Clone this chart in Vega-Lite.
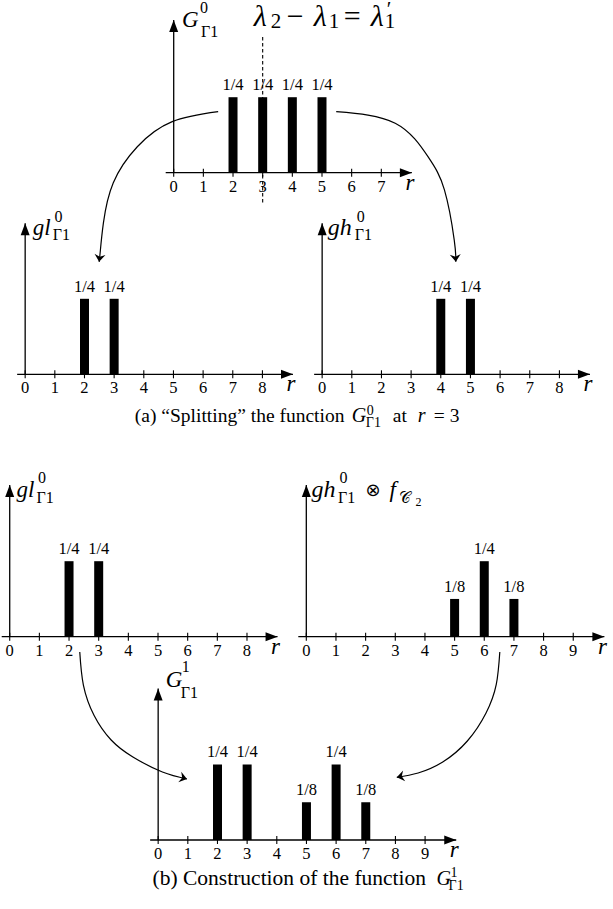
{
"$schema":"https://vega.github.io/schema/vega-lite/v6.json",
"width":613,"height":909,"padding":0,"autosize":{"type":"none"},
"background":"white",
"config":{"view":{"stroke":null},"axis":{"disable":true},"mark":{"color":"black"},"text":{"font":"Liberation Serif","baseline":"alphabetic","align":"left","color":"black"},"point":{"filled":true,"opacity":1,"strokeWidth":0},"rule":{"strokeWidth":1.3},"line":{"strokeWidth":1.2}},
"datasets":{
"axes":[
{"pn":"T","r":-0.27,"p":0,"r2":8.03,"p2":0},{"pn":"T","r":0,"p":0,"r2":0,"p2":0.506},
{"pn":"L2","r":-0.27,"p":0,"r2":9.03,"p2":0},{"pn":"L2","r":0,"p":0,"r2":0,"p2":0.5},
{"pn":"R2","r":-0.27,"p":0,"r2":9.03,"p2":0},{"pn":"R2","r":0,"p":0,"r2":0,"p2":0.5},
{"pn":"L3","r":-0.27,"p":0,"r2":9.03,"p2":0},{"pn":"L3","r":0,"p":0,"r2":0,"p2":0.502},
{"pn":"R3","r":-0.27,"p":0,"r2":10.05,"p2":0},{"pn":"R3","r":0,"p":0,"r2":0,"p2":0.502},
{"pn":"B4","r":-0.27,"p":0,"r2":10.05,"p2":0},{"pn":"B4","r":0,"p":0,"r2":0,"p2":0.502}
],
"ticks":[
{"pn":"T","r":0,"p":0},{"pn":"T","r":1,"p":0},{"pn":"T","r":2,"p":0},{"pn":"T","r":3,"p":0},{"pn":"T","r":4,"p":0},{"pn":"T","r":5,"p":0},{"pn":"T","r":6,"p":0},{"pn":"T","r":7,"p":0},
{"pn":"L2","r":0,"p":0},{"pn":"L2","r":1,"p":0},{"pn":"L2","r":2,"p":0},{"pn":"L2","r":3,"p":0},{"pn":"L2","r":4,"p":0},{"pn":"L2","r":5,"p":0},{"pn":"L2","r":6,"p":0},{"pn":"L2","r":7,"p":0},{"pn":"L2","r":8,"p":0},
{"pn":"R2","r":0,"p":0},{"pn":"R2","r":1,"p":0},{"pn":"R2","r":2,"p":0},{"pn":"R2","r":3,"p":0},{"pn":"R2","r":4,"p":0},{"pn":"R2","r":5,"p":0},{"pn":"R2","r":6,"p":0},{"pn":"R2","r":7,"p":0},{"pn":"R2","r":8,"p":0},
{"pn":"L3","r":0,"p":0},{"pn":"L3","r":1,"p":0},{"pn":"L3","r":2,"p":0},{"pn":"L3","r":3,"p":0},{"pn":"L3","r":4,"p":0},{"pn":"L3","r":5,"p":0},{"pn":"L3","r":6,"p":0},{"pn":"L3","r":7,"p":0},{"pn":"L3","r":8,"p":0},
{"pn":"R3","r":0,"p":0},{"pn":"R3","r":1,"p":0},{"pn":"R3","r":2,"p":0},{"pn":"R3","r":3,"p":0},{"pn":"R3","r":4,"p":0},{"pn":"R3","r":5,"p":0},{"pn":"R3","r":6,"p":0},{"pn":"R3","r":7,"p":0},{"pn":"R3","r":8,"p":0},{"pn":"R3","r":9,"p":0},
{"pn":"B4","r":0,"p":0},{"pn":"B4","r":1,"p":0},{"pn":"B4","r":2,"p":0},{"pn":"B4","r":3,"p":0},{"pn":"B4","r":4,"p":0},{"pn":"B4","r":5,"p":0},{"pn":"B4","r":6,"p":0},{"pn":"B4","r":7,"p":0},{"pn":"B4","r":8,"p":0},{"pn":"B4","r":9,"p":0}
],
"bars":[
{"pn":"T","r":2,"p":0.25,"lab":"1/4"},{"pn":"T","r":3,"p":0.25,"lab":"1/4"},{"pn":"T","r":4,"p":0.25,"lab":"1/4"},{"pn":"T","r":5,"p":0.25,"lab":"1/4"},
{"pn":"L2","r":2,"p":0.25,"lab":"1/4"},{"pn":"L2","r":3,"p":0.25,"lab":"1/4"},
{"pn":"R2","r":4,"p":0.25,"lab":"1/4"},{"pn":"R2","r":5,"p":0.25,"lab":"1/4"},
{"pn":"L3","r":2,"p":0.25,"lab":"1/4"},{"pn":"L3","r":3,"p":0.25,"lab":"1/4"},
{"pn":"R3","r":5,"p":0.125,"lab":"1/8"},{"pn":"R3","r":6,"p":0.25,"lab":"1/4"},{"pn":"R3","r":7,"p":0.125,"lab":"1/8"},
{"pn":"B4","r":2,"p":0.25,"lab":"1/4"},{"pn":"B4","r":3,"p":0.25,"lab":"1/4"},{"pn":"B4","r":5,"p":0.125,"lab":"1/8"},{"pn":"B4","r":6,"p":0.25,"lab":"1/4"},{"pn":"B4","r":7,"p":0.125,"lab":"1/8"}
],
"anchors":[
{"id":"T","r":0.282,"p":0.4834},
{"id":"title","r":2.703,"p":0.486},
{"id":"L2","r":0.259,"p":0.4613},
{"id":"R2","r":0.186,"p":0.4613},
{"id":"capA","r":3.698,"p":-0.157},
{"id":"L3","r":0.229,"p":0.4636},
{"id":"R3","r":0.179,"p":0.4636},
{"id":"B4","r":0.252,"p":0.5076},
{"id":"capB","r":-0.189,"p":-0.149}
],
"dash":[{"pn":"T","r":3,"p":0.449,"p2":-0.107}],
"arcs":[
{"arc":"TL","i":0,"r":1.499,"p":0.202},
{"arc":"TL","i":1,"r":-0.05,"p":0.169},
{"arc":"TL","i":2,"r":-1.227,"p":0.086},
{"arc":"TL","i":3,"r":-2.04,"p":-0.034},
{"arc":"TL","i":4,"r":-2.371,"p":-0.167},
{"arc":"TL","i":5,"r":-2.481,"p":-0.266},
{"arc":"TL","i":6,"r":-2.514,"p":-0.295},
{"arc":"TR","i":0,"r":5.479,"p":0.202},
{"arc":"TR","i":1,"r":7.469,"p":0.164},
{"arc":"TR","i":2,"r":8.574,"p":0.053},
{"arc":"TR","i":3,"r":9.128,"p":-0.057},
{"arc":"TR","i":4,"r":9.459,"p":-0.223},
{"arc":"TR","i":5,"r":9.512,"p":-0.295},
{"arc":"BL","i":0,"r":-2.643,"p":0.6225},
{"arc":"BL","i":1,"r":-2.521,"p":0.5132},
{"arc":"BL","i":2,"r":-2.159,"p":0.4123},
{"arc":"BL","i":3,"r":-1.585,"p":0.3311},
{"arc":"BL","i":4,"r":-0.852,"p":0.2748},
{"arc":"BL","i":5,"r":0.143,"p":0.2252},
{"arc":"BL","i":6,"r":0.972,"p":0.202},
{"arc":"BR","i":0,"r":11.519,"p":0.6225},
{"arc":"BR","i":1,"r":11.4,"p":0.5152},
{"arc":"BR","i":2,"r":11.055,"p":0.4205},
{"arc":"BR","i":3,"r":10.425,"p":0.3278},
{"arc":"BR","i":4,"r":9.595,"p":0.2583},
{"arc":"BR","i":5,"r":8.766,"p":0.2219},
{"arc":"BR","i":6,"r":8.046,"p":0.2076}
]
},
"layer":[
{"encoding":{"x":{"field":"r","type":"quantitative","scale":{"domain":[-5.688,14.643],"nice":false,"zero":false},"axis":null},"y":{"field":"p","type":"quantitative","scale":{"domain":[-2.4381,0.5719],"nice":false,"zero":false},"axis":null}},
"layer":[
{"data":{"name":"axes"},"transform":[{"filter":"datum.pn=='T'"}],"mark":{"type":"rule"},"encoding":{"x2":{"field":"r2"},"y2":{"field":"p2"}}},
{"data":{"name":"axes"},"transform":[{"filter":"datum.pn=='T' && datum.p2==0"}],"mark":{"type":"point","shape":"M0,0L-2,-0.75L-2,0.75Z","size":144,"angle":0},"encoding":{"x":{"field":"r2","type":"quantitative","axis":null},"y":{"field":"p2","type":"quantitative","axis":null}}},
{"data":{"name":"axes"},"transform":[{"filter":"datum.pn=='T' && datum.p2>0"}],"mark":{"type":"point","shape":"M0,0L-2,-0.75L-2,0.75Z","size":144,"angle":270},"encoding":{"x":{"field":"r2","type":"quantitative","axis":null},"y":{"field":"p2","type":"quantitative","axis":null}}},
{"data":{"name":"axes"},"transform":[{"filter":"datum.pn=='T' && datum.p2==0"}],"mark":{"type":"text","text":"r","fontStyle":"italic","fontSize":23,"align":"center","dx":-2,"dy":17},"encoding":{"x":{"field":"r2","type":"quantitative","axis":null},"y":{"field":"p2","type":"quantitative","axis":null}}},
{"data":{"name":"ticks"},"transform":[{"filter":"datum.pn=='T'"}],"mark":{"type":"tick","orient":"vertical","size":8,"thickness":1.1,"opacity":1}},
{"data":{"name":"ticks"},"transform":[{"filter":"datum.pn=='T'"}],"mark":{"type":"text","fontSize":16.5,"align":"center","dy":19},"encoding":{"text":{"field":"r","type":"quantitative","format":"d"}}},
{"data":{"name":"bars"},"transform":[{"filter":"datum.pn=='T'"}],"mark":{"type":"bar","width":9},"encoding":{"y2":{"datum":0}}},
{"data":{"name":"bars"},"transform":[{"filter":"datum.pn=='T'"}],"mark":{"type":"text","fontSize":16.5,"align":"center","dy":-7},"encoding":{"text":{"field":"lab"}}},
{"data":{"name":"dash"},"mark":{"type":"rule","strokeWidth":1.1,"strokeDash":[3.5,2.5]},"encoding":{"y2":{"field":"p2"}}},
{"data":{"name":"anchors"},"transform":[{"filter":"datum.id=='T'"}],"mark":{"type":"text","text":"G","fontStyle":"italic","fontSize":23}},
{"data":{"name":"anchors"},"transform":[{"filter":"datum.id=='T'"}],"mark":{"type":"text","text":"0","fontSize":16,"dx":18,"dy":-14}},
{"data":{"name":"anchors"},"transform":[{"filter":"datum.id=='T'"}],"mark":{"type":"text","text":"Γ1","fontSize":16,"dx":19,"dy":10}},
{"data":{"name":"anchors"},"transform":[{"filter":"datum.id=='title'"}],"mark":{"type":"text","text":"λ","fontStyle":"italic","fontSize":30}},
{"data":{"name":"anchors"},"transform":[{"filter":"datum.id=='title'"}],"mark":{"type":"text","text":"2","fontSize":21,"dx":17,"dy":2}},
{"data":{"name":"anchors"},"transform":[{"filter":"datum.id=='title'"}],"mark":{"type":"text","text":"−","fontSize":30,"dx":33}},
{"data":{"name":"anchors"},"transform":[{"filter":"datum.id=='title'"}],"mark":{"type":"text","text":"λ","fontStyle":"italic","fontSize":30,"dx":60}},
{"data":{"name":"anchors"},"transform":[{"filter":"datum.id=='title'"}],"mark":{"type":"text","text":"1","fontSize":21,"dx":75,"dy":2}},
{"data":{"name":"anchors"},"transform":[{"filter":"datum.id=='title'"}],"mark":{"type":"text","text":"=","fontSize":30,"dx":90}},
{"data":{"name":"anchors"},"transform":[{"filter":"datum.id=='title'"}],"mark":{"type":"text","text":"λ","fontStyle":"italic","fontSize":30,"dx":117}},
{"data":{"name":"anchors"},"transform":[{"filter":"datum.id=='title'"}],"mark":{"type":"text","text":"′","fontSize":21,"dx":133,"dy":-10}},
{"data":{"name":"anchors"},"transform":[{"filter":"datum.id=='title'"}],"mark":{"type":"text","text":"1","fontSize":21,"dx":131,"dy":2}},
{"data":{"name":"arcs"},"transform":[{"filter":"datum.arc=='TL' || datum.arc=='TR'"}],"mark":{"type":"line","interpolate":"natural"},"encoding":{"detail":{"field":"arc"},"order":{"field":"i"}}},
{"data":{"name":"arcs"},"transform":[{"filter":"datum.arc=='TL' && datum.i==6"}],"mark":{"type":"point","shape":"M0,0L-1.5,-1.1L-1,0L-1.5,1.1Z","size":100,"angle":96.6}},
{"data":{"name":"arcs"},"transform":[{"filter":"datum.arc=='TR' && datum.i==5"}],"mark":{"type":"point","shape":"M0,0L-1.5,-1.1L-1,0L-1.5,1.1Z","size":100,"angle":85.8}}
]},
{"encoding":{"x":{"field":"r","type":"quantitative","scale":{"domain":[-0.68,19.652],"nice":false,"zero":false},"axis":null},"y":{"field":"p","type":"quantitative","scale":{"domain":[-1.7705,1.2394],"nice":false,"zero":false},"axis":null}},
"layer":[
{"data":{"name":"axes"},"transform":[{"filter":"datum.pn=='L2'"}],"mark":{"type":"rule"},"encoding":{"x2":{"field":"r2"},"y2":{"field":"p2"}}},
{"data":{"name":"axes"},"transform":[{"filter":"datum.pn=='L2' && datum.p2==0"}],"mark":{"type":"point","shape":"M0,0L-2,-0.75L-2,0.75Z","size":144,"angle":0},"encoding":{"x":{"field":"r2","type":"quantitative","axis":null},"y":{"field":"p2","type":"quantitative","axis":null}}},
{"data":{"name":"axes"},"transform":[{"filter":"datum.pn=='L2' && datum.p2>0"}],"mark":{"type":"point","shape":"M0,0L-2,-0.75L-2,0.75Z","size":144,"angle":270},"encoding":{"x":{"field":"r2","type":"quantitative","axis":null},"y":{"field":"p2","type":"quantitative","axis":null}}},
{"data":{"name":"axes"},"transform":[{"filter":"datum.pn=='L2' && datum.p2==0"}],"mark":{"type":"text","text":"r","fontStyle":"italic","fontSize":23,"align":"center","dx":-2,"dy":17},"encoding":{"x":{"field":"r2","type":"quantitative","axis":null},"y":{"field":"p2","type":"quantitative","axis":null}}},
{"data":{"name":"ticks"},"transform":[{"filter":"datum.pn=='L2'"}],"mark":{"type":"tick","orient":"vertical","size":8,"thickness":1.1,"opacity":1}},
{"data":{"name":"ticks"},"transform":[{"filter":"datum.pn=='L2'"}],"mark":{"type":"text","fontSize":16.5,"align":"center","dy":19},"encoding":{"text":{"field":"r","type":"quantitative","format":"d"}}},
{"data":{"name":"bars"},"transform":[{"filter":"datum.pn=='L2'"}],"mark":{"type":"bar","width":9},"encoding":{"y2":{"datum":0}}},
{"data":{"name":"bars"},"transform":[{"filter":"datum.pn=='L2'"}],"mark":{"type":"text","fontSize":16.5,"align":"center","dy":-7},"encoding":{"text":{"field":"lab"}}},
{"data":{"name":"anchors"},"transform":[{"filter":"datum.id=='L2'"}],"mark":{"type":"text","text":"gl","fontStyle":"italic","fontSize":23}},
{"data":{"name":"anchors"},"transform":[{"filter":"datum.id=='L2'"}],"mark":{"type":"text","text":"0","fontSize":16,"dx":21.7,"dy":-13.3}},
{"data":{"name":"anchors"},"transform":[{"filter":"datum.id=='L2'"}],"mark":{"type":"text","text":"Γ1","fontSize":16,"dx":20,"dy":5}},
{"data":{"name":"anchors"},"transform":[{"filter":"datum.id=='capA'"}],"mark":{"type":"text","text":"(a) “Splitting” the function","fontSize":19.5}},
{"data":{"name":"anchors"},"transform":[{"filter":"datum.id=='capA'"}],"mark":{"type":"text","text":"G","fontStyle":"italic","fontSize":20,"dx":217}},
{"data":{"name":"anchors"},"transform":[{"filter":"datum.id=='capA'"}],"mark":{"type":"text","text":"0","fontSize":14,"dx":232,"dy":-7}},
{"data":{"name":"anchors"},"transform":[{"filter":"datum.id=='capA'"}],"mark":{"type":"text","text":"Γ1","fontSize":14,"dx":231,"dy":5}},
{"data":{"name":"anchors"},"transform":[{"filter":"datum.id=='capA'"}],"mark":{"type":"text","text":"at","fontSize":19.5,"dx":258}},
{"data":{"name":"anchors"},"transform":[{"filter":"datum.id=='capA'"}],"mark":{"type":"text","text":"r","fontStyle":"italic","fontSize":20,"dx":283}},
{"data":{"name":"anchors"},"transform":[{"filter":"datum.id=='capA'"}],"mark":{"type":"text","text":"= 3","fontSize":19.5,"dx":299}}
]},
{"encoding":{"x":{"field":"r","type":"quantitative","scale":{"domain":[-10.693,9.638],"nice":false,"zero":false},"axis":null},"y":{"field":"p","type":"quantitative","scale":{"domain":[-1.7705,1.2394],"nice":false,"zero":false},"axis":null}},
"layer":[
{"data":{"name":"axes"},"transform":[{"filter":"datum.pn=='R2'"}],"mark":{"type":"rule"},"encoding":{"x2":{"field":"r2"},"y2":{"field":"p2"}}},
{"data":{"name":"axes"},"transform":[{"filter":"datum.pn=='R2' && datum.p2==0"}],"mark":{"type":"point","shape":"M0,0L-2,-0.75L-2,0.75Z","size":144,"angle":0},"encoding":{"x":{"field":"r2","type":"quantitative","axis":null},"y":{"field":"p2","type":"quantitative","axis":null}}},
{"data":{"name":"axes"},"transform":[{"filter":"datum.pn=='R2' && datum.p2>0"}],"mark":{"type":"point","shape":"M0,0L-2,-0.75L-2,0.75Z","size":144,"angle":270},"encoding":{"x":{"field":"r2","type":"quantitative","axis":null},"y":{"field":"p2","type":"quantitative","axis":null}}},
{"data":{"name":"axes"},"transform":[{"filter":"datum.pn=='R2' && datum.p2==0"}],"mark":{"type":"text","text":"r","fontStyle":"italic","fontSize":23,"align":"center","dx":-2,"dy":17},"encoding":{"x":{"field":"r2","type":"quantitative","axis":null},"y":{"field":"p2","type":"quantitative","axis":null}}},
{"data":{"name":"ticks"},"transform":[{"filter":"datum.pn=='R2'"}],"mark":{"type":"tick","orient":"vertical","size":8,"thickness":1.1,"opacity":1}},
{"data":{"name":"ticks"},"transform":[{"filter":"datum.pn=='R2'"}],"mark":{"type":"text","fontSize":16.5,"align":"center","dy":19},"encoding":{"text":{"field":"r","type":"quantitative","format":"d"}}},
{"data":{"name":"bars"},"transform":[{"filter":"datum.pn=='R2'"}],"mark":{"type":"bar","width":9},"encoding":{"y2":{"datum":0}}},
{"data":{"name":"bars"},"transform":[{"filter":"datum.pn=='R2'"}],"mark":{"type":"text","fontSize":16.5,"align":"center","dy":-7},"encoding":{"text":{"field":"lab"}}},
{"data":{"name":"anchors"},"transform":[{"filter":"datum.id=='R2'"}],"mark":{"type":"text","text":"gh","fontStyle":"italic","fontSize":24}},
{"data":{"name":"anchors"},"transform":[{"filter":"datum.id=='R2'"}],"mark":{"type":"text","text":"0","fontSize":16,"dx":29,"dy":-13.3}},
{"data":{"name":"anchors"},"transform":[{"filter":"datum.id=='R2'"}],"mark":{"type":"text","text":"Γ1","fontSize":16,"dx":27,"dy":5}}
]},
{"encoding":{"x":{"field":"r","type":"quantitative","scale":{"domain":[-0.159,20.172],"nice":false,"zero":false},"axis":null},"y":{"field":"p","type":"quantitative","scale":{"domain":[-0.9017,2.1083],"nice":false,"zero":false},"axis":null}},
"layer":[
{"data":{"name":"axes"},"transform":[{"filter":"datum.pn=='L3'"}],"mark":{"type":"rule"},"encoding":{"x2":{"field":"r2"},"y2":{"field":"p2"}}},
{"data":{"name":"axes"},"transform":[{"filter":"datum.pn=='L3' && datum.p2==0"}],"mark":{"type":"point","shape":"M0,0L-2,-0.75L-2,0.75Z","size":144,"angle":0},"encoding":{"x":{"field":"r2","type":"quantitative","axis":null},"y":{"field":"p2","type":"quantitative","axis":null}}},
{"data":{"name":"axes"},"transform":[{"filter":"datum.pn=='L3' && datum.p2>0"}],"mark":{"type":"point","shape":"M0,0L-2,-0.75L-2,0.75Z","size":144,"angle":270},"encoding":{"x":{"field":"r2","type":"quantitative","axis":null},"y":{"field":"p2","type":"quantitative","axis":null}}},
{"data":{"name":"axes"},"transform":[{"filter":"datum.pn=='L3' && datum.p2==0"}],"mark":{"type":"text","text":"r","fontStyle":"italic","fontSize":23,"align":"center","dx":-2,"dy":17},"encoding":{"x":{"field":"r2","type":"quantitative","axis":null},"y":{"field":"p2","type":"quantitative","axis":null}}},
{"data":{"name":"ticks"},"transform":[{"filter":"datum.pn=='L3'"}],"mark":{"type":"tick","orient":"vertical","size":8,"thickness":1.1,"opacity":1}},
{"data":{"name":"ticks"},"transform":[{"filter":"datum.pn=='L3'"}],"mark":{"type":"text","fontSize":16.5,"align":"center","dy":19},"encoding":{"text":{"field":"r","type":"quantitative","format":"d"}}},
{"data":{"name":"bars"},"transform":[{"filter":"datum.pn=='L3'"}],"mark":{"type":"bar","width":9},"encoding":{"y2":{"datum":0}}},
{"data":{"name":"bars"},"transform":[{"filter":"datum.pn=='L3'"}],"mark":{"type":"text","fontSize":16.5,"align":"center","dy":-7},"encoding":{"text":{"field":"lab"}}},
{"data":{"name":"anchors"},"transform":[{"filter":"datum.id=='L3'"}],"mark":{"type":"text","text":"gl","fontStyle":"italic","fontSize":23}},
{"data":{"name":"anchors"},"transform":[{"filter":"datum.id=='L3'"}],"mark":{"type":"text","text":"0","fontSize":16,"dx":21.5,"dy":-13.4}},
{"data":{"name":"anchors"},"transform":[{"filter":"datum.id=='L3'"}],"mark":{"type":"text","text":"Γ1","fontSize":16,"dx":20,"dy":6.6}}
]},
{"encoding":{"x":{"field":"r","type":"quantitative","scale":{"domain":[-10.159,10.172],"nice":false,"zero":false},"axis":null},"y":{"field":"p","type":"quantitative","scale":{"domain":[-0.9017,2.1083],"nice":false,"zero":false},"axis":null}},
"layer":[
{"data":{"name":"axes"},"transform":[{"filter":"datum.pn=='R3'"}],"mark":{"type":"rule"},"encoding":{"x2":{"field":"r2"},"y2":{"field":"p2"}}},
{"data":{"name":"axes"},"transform":[{"filter":"datum.pn=='R3' && datum.p2==0"}],"mark":{"type":"point","shape":"M0,0L-2,-0.75L-2,0.75Z","size":144,"angle":0},"encoding":{"x":{"field":"r2","type":"quantitative","axis":null},"y":{"field":"p2","type":"quantitative","axis":null}}},
{"data":{"name":"axes"},"transform":[{"filter":"datum.pn=='R3' && datum.p2>0"}],"mark":{"type":"point","shape":"M0,0L-2,-0.75L-2,0.75Z","size":144,"angle":270},"encoding":{"x":{"field":"r2","type":"quantitative","axis":null},"y":{"field":"p2","type":"quantitative","axis":null}}},
{"data":{"name":"axes"},"transform":[{"filter":"datum.pn=='R3' && datum.p2==0"}],"mark":{"type":"text","text":"r","fontStyle":"italic","fontSize":23,"align":"center","dx":-2,"dy":17},"encoding":{"x":{"field":"r2","type":"quantitative","axis":null},"y":{"field":"p2","type":"quantitative","axis":null}}},
{"data":{"name":"ticks"},"transform":[{"filter":"datum.pn=='R3'"}],"mark":{"type":"tick","orient":"vertical","size":8,"thickness":1.1,"opacity":1}},
{"data":{"name":"ticks"},"transform":[{"filter":"datum.pn=='R3'"}],"mark":{"type":"text","fontSize":16.5,"align":"center","dy":19},"encoding":{"text":{"field":"r","type":"quantitative","format":"d"}}},
{"data":{"name":"bars"},"transform":[{"filter":"datum.pn=='R3'"}],"mark":{"type":"bar","width":9},"encoding":{"y2":{"datum":0}}},
{"data":{"name":"bars"},"transform":[{"filter":"datum.pn=='R3'"}],"mark":{"type":"text","fontSize":16.5,"align":"center","dy":-7},"encoding":{"text":{"field":"lab"}}},
{"data":{"name":"anchors"},"transform":[{"filter":"datum.id=='R3'"}],"mark":{"type":"text","text":"gh","fontStyle":"italic","fontSize":24}},
{"data":{"name":"anchors"},"transform":[{"filter":"datum.id=='R3'"}],"mark":{"type":"text","text":"0","fontSize":16,"dx":28,"dy":-13.4}},
{"data":{"name":"anchors"},"transform":[{"filter":"datum.id=='R3'"}],"mark":{"type":"text","text":"Γ1","fontSize":16,"dx":26.5,"dy":6.6}},
{"data":{"name":"anchors"},"transform":[{"filter":"datum.id=='R3'"}],"mark":{"type":"text","text":"⊗","font":"DejaVu Sans","fontSize":18,"dx":54,"dy":-1}},
{"data":{"name":"anchors"},"transform":[{"filter":"datum.id=='R3'"}],"mark":{"type":"text","text":"f","fontStyle":"italic","fontSize":23,"dx":78}},
{"data":{"name":"anchors"},"transform":[{"filter":"datum.id=='R3'"}],"mark":{"type":"text","text":"𝒞","font":"DejaVu Serif","fontSize":16,"dx":87,"dy":6.6}},
{"data":{"name":"anchors"},"transform":[{"filter":"datum.id=='R3'"}],"mark":{"type":"text","text":"2","fontSize":12,"dx":104,"dy":9}}
]},
{"encoding":{"x":{"field":"r","type":"quantitative","scale":{"domain":[-5.164,15.167],"nice":false,"zero":false},"axis":null},"y":{"field":"p","type":"quantitative","scale":{"domain":[-0.2285,2.7815],"nice":false,"zero":false},"axis":null}},
"layer":[
{"data":{"name":"axes"},"transform":[{"filter":"datum.pn=='B4'"}],"mark":{"type":"rule"},"encoding":{"x2":{"field":"r2"},"y2":{"field":"p2"}}},
{"data":{"name":"axes"},"transform":[{"filter":"datum.pn=='B4' && datum.p2==0"}],"mark":{"type":"point","shape":"M0,0L-2,-0.75L-2,0.75Z","size":144,"angle":0},"encoding":{"x":{"field":"r2","type":"quantitative","axis":null},"y":{"field":"p2","type":"quantitative","axis":null}}},
{"data":{"name":"axes"},"transform":[{"filter":"datum.pn=='B4' && datum.p2>0"}],"mark":{"type":"point","shape":"M0,0L-2,-0.75L-2,0.75Z","size":144,"angle":270},"encoding":{"x":{"field":"r2","type":"quantitative","axis":null},"y":{"field":"p2","type":"quantitative","axis":null}}},
{"data":{"name":"axes"},"transform":[{"filter":"datum.pn=='B4' && datum.p2==0"}],"mark":{"type":"text","text":"r","fontStyle":"italic","fontSize":23,"align":"center","dx":-2,"dy":17},"encoding":{"x":{"field":"r2","type":"quantitative","axis":null},"y":{"field":"p2","type":"quantitative","axis":null}}},
{"data":{"name":"ticks"},"transform":[{"filter":"datum.pn=='B4'"}],"mark":{"type":"tick","orient":"vertical","size":8,"thickness":1.1,"opacity":1}},
{"data":{"name":"ticks"},"transform":[{"filter":"datum.pn=='B4'"}],"mark":{"type":"text","fontSize":16.5,"align":"center","dy":19},"encoding":{"text":{"field":"r","type":"quantitative","format":"d"}}},
{"data":{"name":"bars"},"transform":[{"filter":"datum.pn=='B4'"}],"mark":{"type":"bar","width":9},"encoding":{"y2":{"datum":0}}},
{"data":{"name":"bars"},"transform":[{"filter":"datum.pn=='B4'"}],"mark":{"type":"text","fontSize":16.5,"align":"center","dy":-7},"encoding":{"text":{"field":"lab"}}},
{"data":{"name":"anchors"},"transform":[{"filter":"datum.id=='B4'"}],"mark":{"type":"text","text":"G","fontStyle":"italic","fontSize":23}},
{"data":{"name":"anchors"},"transform":[{"filter":"datum.id=='B4'"}],"mark":{"type":"text","text":"1","fontSize":16,"dx":16,"dy":-15}},
{"data":{"name":"anchors"},"transform":[{"filter":"datum.id=='B4'"}],"mark":{"type":"text","text":"Γ1","fontSize":16,"dx":15,"dy":11}},
{"data":{"name":"arcs"},"transform":[{"filter":"datum.arc=='BL' || datum.arc=='BR'"}],"mark":{"type":"line","interpolate":"natural"},"encoding":{"detail":{"field":"arc"},"order":{"field":"i"}}},
{"data":{"name":"arcs"},"transform":[{"filter":"datum.arc=='BL' && datum.i==6"}],"mark":{"type":"point","shape":"M0,0L-1.5,-1.1L-1,0L-1.5,1.1Z","size":100,"angle":15.6}},
{"data":{"name":"arcs"},"transform":[{"filter":"datum.arc=='BR' && datum.i==6"}],"mark":{"type":"point","shape":"M0,0L-1.5,-1.1L-1,0L-1.5,1.1Z","size":100,"angle":169}},
{"data":{"name":"anchors"},"transform":[{"filter":"datum.id=='capB'"}],"mark":{"type":"text","text":"(b) Construction of the function","fontSize":21.5}},
{"data":{"name":"anchors"},"transform":[{"filter":"datum.id=='capB'"}],"mark":{"type":"text","text":"G","fontStyle":"italic","fontSize":20,"dx":284}},
{"data":{"name":"anchors"},"transform":[{"filter":"datum.id=='capB'"}],"mark":{"type":"text","text":"1","fontSize":14,"dx":298,"dy":-8}},
{"data":{"name":"anchors"},"transform":[{"filter":"datum.id=='capB'"}],"mark":{"type":"text","text":"Γ1","fontSize":14,"dx":296,"dy":5}}
]}
],
"resolve":{"scale":{"x":"independent","y":"independent"}}
}
